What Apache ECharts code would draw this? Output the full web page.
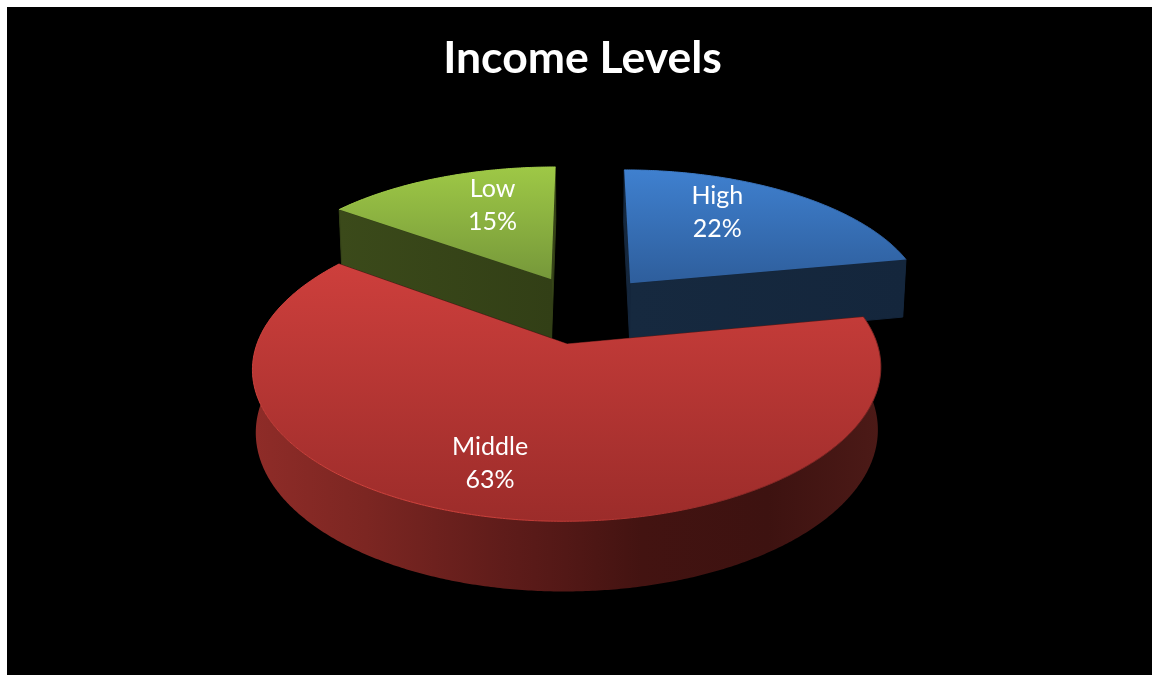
<!DOCTYPE html>
<html>
<head>
<meta charset="utf-8">
<title>Income Levels</title>
<script src="https://cdn.jsdelivr.net/npm/echarts@6/dist/echarts.min.js"></script>
<style>
    html, body { margin: 0; padding: 0; background: #fff; }
    #backdrop { position: absolute; left: 7px; top: 7px; right: 0; bottom: 0; background: #000; }
    #chart { position: absolute; left: 0; top: 0; width: 1152px; height: 675px; }
</style>
</head>
<body>
<div id="backdrop"></div>
<div id="chart"></div>
<script>
    var titleText = 'Income Levels';
    var categories = ['High', 'Middle', 'Low'];
    var values = [22, 63, 15];

    var topColors = [['#3f80cf', '#2e5e9c'], ['#cd3f3c', '#9c2c2a'], ['#9ec846', '#76983a']];
    var faceColors = [['#16293f', '#14263c'], ['#5c1b19', '#5c1b19'], ['#3b4a1a', '#323f16']];
    var wallColors = [
        [[0, '#1c3350'], [1, '#14263c']],
        [[0, '#8f2c28'], [0.18, '#7c2622'], [0.4, '#5f1c1a'], [0.62, '#431311'], [0.82, '#3d1210'], [1, '#4c1a17']],
        [[0, '#5f7f2a'], [1, '#5f7f2a']]
    ];
    var rimColors = [
        [[0, '#3f80cf'], [1, '#2e5e9c']],
        [[0, '#c9403b'], [0.3, '#d4443e'], [0.55, '#bb3834'], [0.8, '#8a2826'], [1, '#7a2422']],
        [[0, '#9ec846'], [1, '#9ec846']]
    ];
    // where the label sits on the top face: radius fraction and angle shift (degrees)
    var labelRadius = [0.68, 0.74, 0.664];
    var labelShift = [-9.5, 4.2, 6.5];

    // fake 3D camera, fitted by eye to the reference
    var cx = 584, cy = 309;
    var rx = 298.5, ry = 138;
    var persp = 6.5;
    var explode = 0.25;
    var depthBase = 8, depthPersp = 52;
    var shrink = 0.99;

    var total = values.reduce(function(a, b) { return a + b; }, 0);

    function project(px, pv, low) {
        var s = persp / (persp - pv);
        var k = low ? shrink : 1;
        return [
            cx + rx * px * s * k,
            cy + ry * pv * s * k + (low ? depthBase + depthPersp * s : 0)
        ];
    }

    function sliceAngles(i) {
        var before = 0;
        for (var n = 0; n < i; n++) before += values[n];
        return [before / total * 360, (before + values[i]) / total * 360];
    }

    function onPlane(deg, r, off) {
        var a = deg * Math.PI / 180;
        return [off[0] + r * Math.sin(a), off[1] - r * Math.cos(a)];
    }

    function arcPoints(a0, a1, off, low) {
        var pts = [];
        var steps = Math.max(8, Math.ceil((a1 - a0) * 2));
        for (var k = 0; k <= steps; k++) {
            var p = onPlane(a0 + (a1 - a0) * k / steps, 1, off);
            pts.push(project(p[0], p[1], low));
        }
        return pts;
    }

    function gradient(dirX, stops) {
        return {
            type: 'linear', x: 0, y: 0, x2: dirX ? 1 : 0, y2: dirX ? 0 : 1,
            colorStops: stops.map(function(s) { return { offset: s[0], color: s[1] }; })
        };
    }

    function renderItem(params, api) {
        var i = api.value(0);
        var ang = sliceAngles(i);
        var mid = (ang[0] + ang[1]) / 2;
        var off = onPlane(mid, explode, [0, 0]);
        var apexTop = project(off[0], off[1], false);
        var apexLow = project(off[0], off[1], true);
        var arcTop = arcPoints(ang[0], ang[1], off, false);
        var arcLow = arcPoints(ang[0], ang[1], off, true);
        var n = arcTop.length - 1;
        var face = gradient(true, [[0, faceColors[i][0]], [1, faceColors[i][1]]]);

        var z = Math.round(off[1] * 100) * 10;
        // a wall on the far side goes behind the cut faces, a near one in front
        var wallZ = off[1] > 0 ? z + 3 : z;
        var kids = [
            { type: 'polygon', z2: z + 1, silent: true,
              shape: { points: [apexTop, arcTop[0], arcLow[0], apexLow] },
              style: { fill: face, stroke: faceColors[i][1], lineWidth: 1 } },
            { type: 'polygon', z2: z + 2, silent: true,
              shape: { points: [apexTop, arcTop[n], arcLow[n], apexLow] },
              style: { fill: face, stroke: faceColors[i][1], lineWidth: 1 } },
            { type: 'polygon', z2: wallZ, silent: true,
              shape: { points: arcTop.concat(arcLow.slice().reverse()) },
              style: { fill: gradient(true, wallColors[i]) } },
            { type: 'polygon', z2: z + 4, silent: true,
              shape: { points: [apexTop].concat(arcTop) },
              style: { fill: gradient(false, [[0, topColors[i][0]], [1, topColors[i][1]]]) } },
            { type: 'polyline', z2: z + 5, silent: true,
              shape: { points: arcTop },
              style: { fill: null, stroke: gradient(true, rimColors[i]), lineWidth: 1 } }
        ];

        var lp = onPlane(mid + labelShift[i], labelRadius[i], off);
        var at = project(lp[0], lp[1], false);
        kids.push({
            type: 'text', z2: 5000, silent: true,
            x: at[0], y: at[1],
            style: {
                text: categories[i] + '\n' + Math.round(api.value(1) / total * 100) + '%',
                fill: '#fff',
                font: '25px Lato, "Open Sans", sans-serif',
                lineHeight: 33,
                align: 'center',
                verticalAlign: 'middle'
            }
        });
        return { type: 'group', children: kids };
    }

    var myChart = echarts.init(document.getElementById('chart'));
    var option = {
        backgroundColor: 'transparent',
        animation: false,
        title: {
            text: titleText,
            left: 577.5,
            top: 31,
            textAlign: 'center',
            textStyle: { color: '#fff', fontSize: 44.5, fontWeight: 'bold', fontFamily: 'Lato, "Open Sans", sans-serif' }
        },
        series: [{
            type: 'custom',
            coordinateSystem: 'none',
            renderItem: renderItem,
            data: values.map(function(v, i) { return [i, v]; })
        }]
    };
    myChart.setOption(option);
</script>
</body>
</html>
